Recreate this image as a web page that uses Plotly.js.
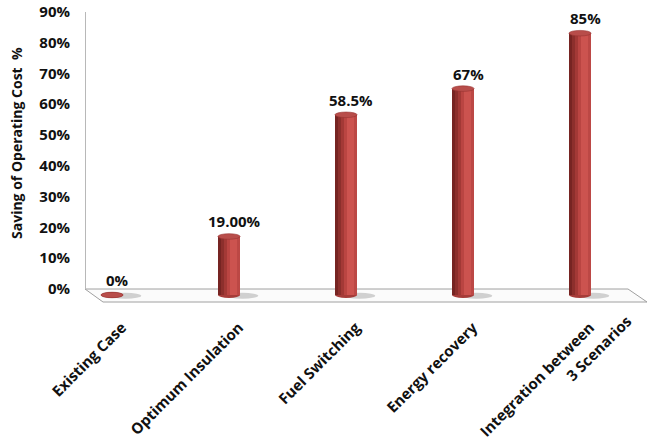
<!DOCTYPE html>
<html>
<head>
<meta charset="utf-8">
<script src="https://cdn.plot.ly/plotly-3.0.1.min.js"></script>
<style>html,body{margin:0;padding:0;background:#fff;}#chart{width:652px;height:447px;}</style>
</head>
<body>
<div id="chart"></div>
<script>
// ---- data ----
const categories = ["Existing Case", "Optimum Insulation", "Fuel Switching", "Energy recovery", "Integration between<br>3 Scenarios"];
const savings = [0, 19, 58.5, 67, 85];
const valueLabels = ["0%", "19.00%", "58.5%", "67%", "85%"];
const yTickVals = [0, 10, 20, 30, 40, 50, 60, 70, 80, 90];
const yTickText = ["0%", "10%", "20%", "30%", "40%", "50%", "60%", "70%", "80%", "90%"];
const yTitle = "Saving of Operating Cost  %";

// ---- layout geometry ----
const W = 652, H = 447;
const M = {l: 85, r: 4, t: 8, b: 144};
const PW = W - M.l - M.r, PH = H - M.t - M.b;
const px2x = p => (p - M.l) / PW;
const px2y = p => (H - M.b - p) / PH;

const xIdx = categories.map((_, i) => i);
const firstLines = categories.map(c => c.split("<br>")[0]);
const secondLines = categories.map(c => c.split("<br>")[1] || "");
const font = "'Open Sans', 'Liberation Sans', sans-serif";
const boldFont = (size) => ({family: font, size: size, color: "#111", weight: "bold"});

// cylinder built from vertical stripes (left dark -> right light)
const cylW = 0.19;
const stripes = [
  {a: 0.00, b: 0.12, c: "#762422"},
  {a: 0.12, b: 0.26, c: "#8c2f2c"},
  {a: 0.26, b: 0.40, c: "#a33936"},
  {a: 0.40, b: 0.54, c: "#ba4542"},
  {a: 0.54, b: 0.84, c: "#cc534f"},
  {a: 0.84, b: 1.00, c: "#bc4845"}
];
const traces = stripes.map(s => ({
  type: "bar",
  x: xIdx,
  y: savings,
  width: xIdx.map(() => cylW * (s.b - s.a)),
  offset: xIdx.map(() => -cylW / 2 + cylW * s.a),
  marker: {color: s.c, line: {width: 0}},
  hoverinfo: "skip",
  showlegend: false
}));

const shapes = [];
// floor and back wall edge
shapes.push({
  type: "path", xref: "paper", yref: "paper", layer: "below",
  path: `M ${px2x(85)} ${px2y(289)} L ${px2x(628)} ${px2y(289)} L ${px2x(647)} ${px2y(302)} L ${px2x(103)} ${px2y(302)} Z`,
  fillcolor: "#fbfbfb", line: {color: "#a0a0a0", width: 1}
});
shapes.push({
  type: "line", xref: "paper", yref: "paper", layer: "below",
  x0: px2x(85.5), x1: px2x(85.5), y0: px2y(12), y1: px2y(289),
  line: {color: "#b8b8b8", width: 1}
});
xIdx.forEach((i) => {
  // shadow
  shapes.push({type: "circle", xref: "x", yref: "y", layer: "below",
    x0: i - 0.02, x1: i + 0.25, y0: -1.2, y1: 0.7,
    fillcolor: "rgba(110,110,110,0.3)", line: {width: 0}});
  // base ellipse
  shapes.push({type: "circle", xref: "x", yref: "y", layer: "below",
    x0: i - cylW / 2, x1: i + cylW / 2, y0: -0.95, y1: 0.95,
    fillcolor: "#a63c39", line: {width: 0}});
  // top ellipse
  shapes.push({type: "circle", xref: "x", yref: "y", layer: "above",
    x0: i - cylW / 2, x1: i + cylW / 2, y0: savings[i] - 0.9, y1: savings[i] + 0.9,
    fillcolor: "#b84d4a", line: {color: "#983432", width: 0.6}});
});

const annotations = xIdx.map(i => ({
  x: i, y: savings[i], xref: "x", yref: "y",
  text: valueLabels[i], showarrow: false,
  yanchor: "bottom", xanchor: "center", yshift: 3, xshift: 5,
  font: boldFont(15)
}));
// second line of multi-line category labels (centred block as in the original)
xIdx.forEach(i => {
  if (secondLines[i]) {
    annotations.push({
      x: i, xref: "x", y: px2y(308), yref: "paper",
      text: secondLines[i], showarrow: false, textangle: -45,
      xanchor: "right", yanchor: "top", xshift: 58,
      font: boldFont(15)
    });
  }
});
// y axis title
annotations.push({
  x: px2x(16), xref: "paper", y: px2y(143), yref: "paper",
  text: yTitle, showarrow: false, textangle: -90,
  xanchor: "center", yanchor: "middle",
  font: boldFont(14)
});

const layout = {
  width: W, height: H,
  margin: M,
  paper_bgcolor: "#fff", plot_bgcolor: "rgba(0,0,0,0)",
  barmode: "overlay",
  showlegend: false,
  xaxis: {
    range: [-0.231, 4.581],
    tickmode: "array", tickvals: xIdx, ticktext: firstLines,
    tickangle: -45, ticks: "", ticklabelstandoff: 12, ticklabelshift: 10,
    showgrid: false, zeroline: false, showline: false,
    tickfont: boldFont(15),
    fixedrange: true
  },
  yaxis: {
    range: [-2.6, 93.18],
    tickmode: "array", tickvals: yTickVals, ticktext: yTickText,
    ticks: "", ticklabelstandoff: 14, ticklabelshift: -6,
    showgrid: false, zeroline: false, showline: false,
    tickfont: boldFont(15),
    automargin: false,
    fixedrange: true
  },
  shapes: shapes,
  annotations: annotations,
  bargap: 0
};

Plotly.newPlot("chart", traces, layout, {displayModeBar: false, staticPlot: true});
</script>
</body>
</html>
